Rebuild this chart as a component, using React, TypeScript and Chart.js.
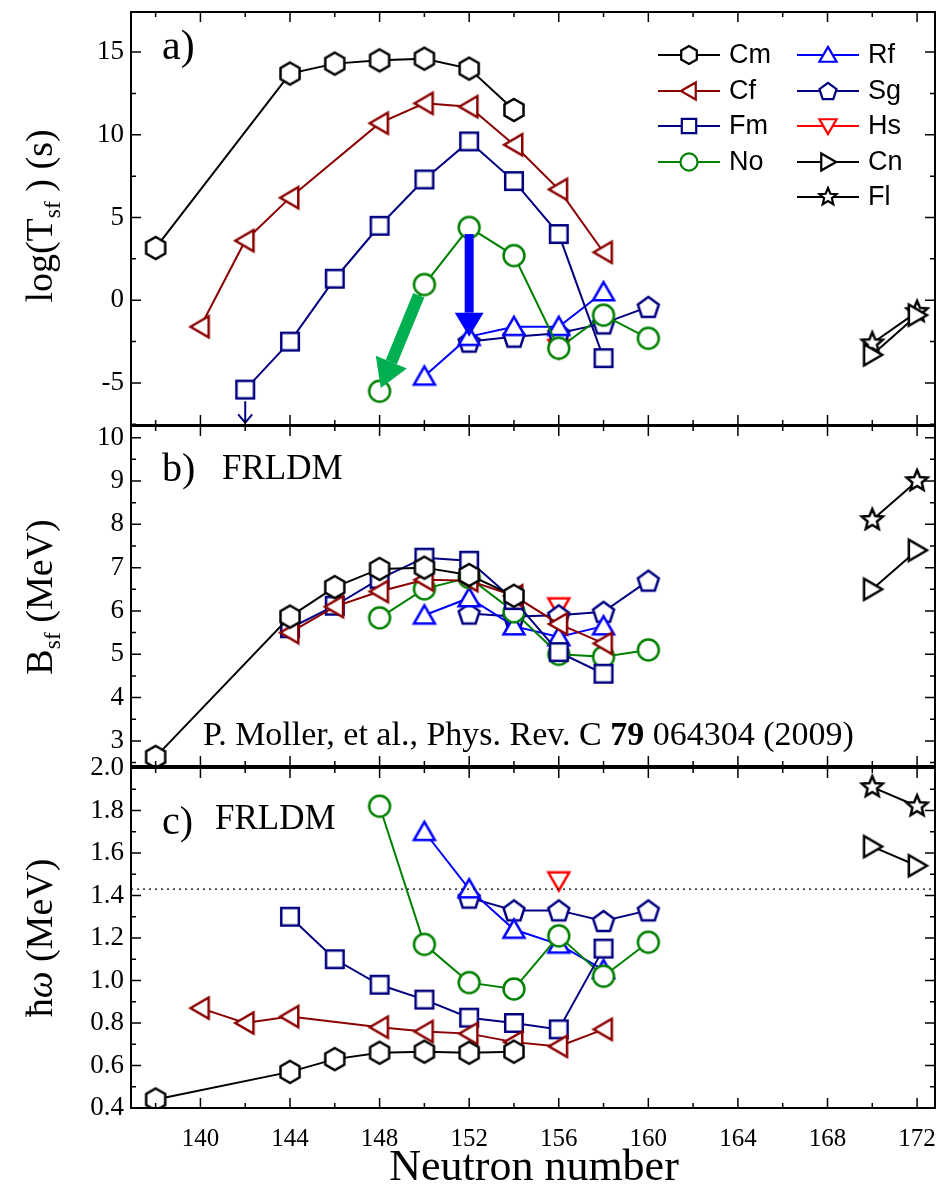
import { useRef, useEffect } from "react";
import { Chart, registerables } from "chart.js";

Chart.register(...registerables);

const SERIF = "'Liberation Serif', 'DejaVu Serif', serif";
const SANS = "'Liberation Sans', Arial, sans-serif";

// ---- data: neutron numbers and values ----
const cmN = [138, 144, 146, 148, 150, 152, 154];
const cmT = [3.16, 13.7, 14.3, 14.5, 14.6, 14.0, 11.5];
const cmB = [2.63, 5.87, 6.55, 6.97, 7.0, 6.83, 6.35];
const cmW = [0.44, 0.57, 0.63, 0.66, 0.665, 0.66, 0.665];

const cfN = [140, 142, 144, 146, 148, 150, 152, 154, 156, 158];
const cfT = [-1.6, 3.6, 6.2, null, 10.7, 11.9, 11.7, 9.4, 6.7, 2.9];
const cfB = [null, null, 5.5, 6.1, 6.45, 6.72, 6.7, 6.35, 5.7, 5.25];
const cfW = [0.87, 0.8, 0.83, null, 0.78, 0.76, 0.75, 0.71, 0.69, 0.77];

const fmN = [142, 144, 146, 148, 150, 152, 154, 156, 158];
const fmT = [-5.4, -2.5, 1.3, 4.5, 7.3, 9.6, 7.2, 4.0, -3.5];
const fmB = [null, 5.6, 6.12, 6.74, 7.23, 7.16, 6.25, 5.05, 4.55];
const fmW = [null, 1.3, 1.1, 0.98, 0.91, 0.825, 0.8, 0.77, 1.15];

const noN = [148, 150, 152, 154, 156, 158, 160];
const noT = [-5.5, 0.95, 4.4, 2.7, -2.9, -0.9, -2.3];
const noB = [5.84, 6.51, 6.77, 5.98, 5.0, 4.94, 5.1];
const noW = [1.82, 1.17, 0.99, 0.96, 1.21, 1.02, 1.18];

const rfN = [150, 152, 154, 156, 158];
const rfT = [-4.6, -2.2, -1.6, -1.6, 0.5];
const rfB = [5.9, 6.3, 5.65, 5.4, 5.65];
const rfW = [1.7, 1.43, 1.24, 1.17, 1.05];

const sgN = [152, 154, 156, 158, 160];
const sgT = [-2.5, -2.2, -2.0, -1.4, -0.4];
const sgB = [5.94, 5.87, 5.9, 5.98, 6.7];
const sgW = [1.39, 1.33, 1.33, 1.28, 1.33];

const hsN = [156];
const hsT = [-2.9];
const hsB = [6.1];
const hsW = [1.47];

const cnN = [170, 172];
const cnT = [-3.3, -0.9];
const cnB = [6.5, 7.4];
const cnW = [1.63, 1.54];

const flN = [170, 172];
const flT = [-2.6, -0.7];
const flB = [8.1, 9.0];
const flW = [1.91, 1.82];

const xMajor = [140, 144, 148, 152, 156, 160, 164, 168, 172];
const xMinor = [138, 142, 146, 150, 154, 158, 162, 166, 170];
const aMajor = [-5, 0, 5, 10, 15];
const aMinor = [-7.5, -2.5, 2.5, 7.5, 12.5, 17.5];
const bMajor = [3, 4, 5, 6, 7, 8, 9, 10];
const bMinor = [2.5, 3.5, 4.5, 5.5, 6.5, 7.5, 8.5, 9.5];
const cMajor = [0.4, 0.6, 0.8, 1.0, 1.2, 1.4, 1.6, 1.8, 2.0];
const cMinor = [0.5, 0.7, 0.9, 1.1, 1.3, 1.5, 1.7, 1.9];
const hbarOmegaRef = 1.43;

type Shape = "hex" | "tl" | "sq" | "ci" | "tu" | "pent" | "td" | "tr" | "star";

const series: { name: string; shape: Shape; color: string; n: number[]; t: (number | null)[]; b: (number | null)[]; w: (number | null)[] }[] = [
  { name: "Cm", shape: "hex", color: "#000000", n: cmN, t: cmT, b: cmB, w: cmW },
  { name: "Cf", shape: "tl", color: "#8b0000", n: cfN, t: cfT, b: cfB, w: cfW },
  { name: "Fm", shape: "sq", color: "#000080", n: fmN, t: fmT, b: fmB, w: fmW },
  { name: "No", shape: "ci", color: "#008000", n: noN, t: noT, b: noB, w: noW },
  { name: "Rf", shape: "tu", color: "#0000ff", n: rfN, t: rfT, b: rfB, w: rfW },
  { name: "Sg", shape: "pent", color: "#000080", n: sgN, t: sgT, b: sgB, w: sgW },
  { name: "Hs", shape: "td", color: "#ff0000", n: hsN, t: hsT, b: hsB, w: hsW },
  { name: "Cn", shape: "tr", color: "#000000", n: cnN, t: cnT, b: cnB, w: cnW },
  { name: "Fl", shape: "star", color: "#000000", n: flN, t: flT, b: flB, w: flW },
];

function polygon(ctx: CanvasRenderingContext2D, x: number, y: number, r: number, k: number, rot: number) {
  ctx.beginPath();
  for (let i = 0; i < k; i++) {
    const a = rot + (i * 2 * Math.PI) / k;
    const px = x + r * Math.cos(a);
    const py = y + r * Math.sin(a);
    if (i === 0) ctx.moveTo(px, py);
    else ctx.lineTo(px, py);
  }
  ctx.closePath();
}

function drawShape(ctx: CanvasRenderingContext2D, shape: Shape, x: number, y: number, r: number, color: string, lw: number) {
  ctx.save();
  ctx.strokeStyle = color;
  ctx.fillStyle = "#ffffff";
  ctx.lineWidth = lw;
  ctx.lineJoin = "miter";
  const up = -Math.PI / 2;
  if (shape === "ci") {
    ctx.beginPath();
    ctx.arc(x, y, r * 0.95, 0, Math.PI * 2);
  } else if (shape === "sq") {
    ctx.beginPath();
    const h = r * 0.8;
    ctx.rect(x - h, y - h, 2 * h, 2 * h);
  } else if (shape === "hex") polygon(ctx, x, y, r, 6, up);
  else if (shape === "pent") polygon(ctx, x, y + r * 0.1, r, 5, up);
  else if (shape === "tu") polygon(ctx, x, y + r * 0.2, r * 1.1, 3, up);
  else if (shape === "td") polygon(ctx, x, y - r * 0.2, r * 1.1, 3, Math.PI / 2);
  else if (shape === "tl") polygon(ctx, x + r * 0.2, y, r * 1.1, 3, Math.PI);
  else if (shape === "tr") polygon(ctx, x - r * 0.2, y, r * 1.1, 3, 0);
  else if (shape === "star") {
    ctx.beginPath();
    for (let i = 0; i < 10; i++) {
      const rr = i % 2 === 0 ? r : r * 0.45;
      const a = up + (i * Math.PI) / 5;
      const px = x + rr * Math.cos(a);
      const py = y + rr * Math.sin(a);
      if (i === 0) ctx.moveTo(px, py);
      else ctx.lineTo(px, py);
    }
    ctx.closePath();
  }
  ctx.fill();
  ctx.stroke();
  ctx.restore();
}

function markerImage(shape: Shape, color: string, r: number) {
  const c = document.createElement("canvas");
  const s = Math.ceil(r * 2 + 8);
  c.width = s;
  c.height = s;
  const ctx = c.getContext("2d")!;
  drawShape(ctx, shape, s / 2, s / 2, r, color, 2.5);
  return c;
}

type Extra = (ctx: CanvasRenderingContext2D, chart: any) => void;

function arrow(ctx: CanvasRenderingContext2D, x1: number, y1: number, x2: number, y2: number, w: number, head: number, color: string) {
  const ang = Math.atan2(y2 - y1, x2 - x1);
  const bx = x2 - head * Math.cos(ang);
  const by = y2 - head * Math.sin(ang);
  ctx.save();
  ctx.strokeStyle = color;
  ctx.fillStyle = color;
  ctx.lineWidth = w;
  ctx.beginPath();
  ctx.moveTo(x1, y1);
  ctx.lineTo(bx, by);
  ctx.stroke();
  ctx.beginPath();
  ctx.moveTo(x2, y2);
  ctx.lineTo(bx + head * 0.6 * Math.sin(ang), by - head * 0.6 * Math.cos(ang));
  ctx.lineTo(bx - head * 0.6 * Math.sin(ang), by + head * 0.6 * Math.cos(ang));
  ctx.closePath();
  ctx.fill();
  ctx.restore();
}

function titleWithSub(ctx: CanvasRenderingContext2D, cx: number, cy: number, parts: [string, boolean, string?][], size: number) {
  ctx.save();
  ctx.translate(cx, cy);
  ctx.rotate(-Math.PI / 2);
  let total = 0;
  const widths = parts.map(([t, sub, st]) => {
    ctx.font = `${st || ""} ${sub ? size * 0.62 : size}px ${SERIF}`;
    const w = ctx.measureText(t).width;
    total += w;
    return w;
  });
  let x = -total / 2;
  ctx.fillStyle = "#000";
  ctx.textBaseline = "middle";
  parts.forEach(([t, sub, st], i) => {
    ctx.font = `${st || ""} ${sub ? size * 0.62 : size}px ${SERIF}`;
    ctx.fillText(t, x, sub ? size * 0.3 : 0);
    x += widths[i];
  });
  ctx.restore();
}

type PanelProps = {
  top: number;
  height: number;
  field: "t" | "b" | "w";
  min: number;
  max: number;
  major: number[];
  minor: number[];
  pad: { top: number; bottom: number };
  showX: boolean;
  digits: number;
  extra: Extra;
};

function Panel(props: PanelProps) {
  const ref = useRef<HTMLCanvasElement>(null);
  useEffect(() => {
    if (!ref.current) return;
    const { field, major, minor, extra } = props;
    const datasets = series.map((s) => ({
      label: s.name,
      data: s.n.map((n, i) => ({ x: n, y: s[field][i] })).filter((p) => p.y !== null),
      borderColor: s.color,
      borderWidth: 2,
      pointStyle: markerImage(s.shape, s.color, 11),
      pointRadius: 11,
      fill: false,
      tension: 0,
    }));
    const frame = {
      id: "frame",
      afterDatasetsDraw(chart: any) {
        const ctx = chart.ctx as CanvasRenderingContext2D;
        const { left, right, top, bottom } = chart.chartArea;
        const xs = chart.scales.x;
        const ys = chart.scales.y;
        extra(ctx, chart);
        ctx.save();
        ctx.strokeStyle = "#000";
        ctx.lineWidth = 2;
        ctx.strokeRect(left, top, right - left, bottom - top);
        ctx.lineWidth = 1.5;
        ctx.beginPath();
        const tx = (v: number, len: number) => {
          const p = xs.getPixelForValue(v);
          ctx.moveTo(p, bottom);
          ctx.lineTo(p, bottom - len);
          ctx.moveTo(p, top);
          ctx.lineTo(p, top + len);
        };
        const ty = (v: number, len: number) => {
          const p = ys.getPixelForValue(v);
          if (p < top - 0.5 || p > bottom + 0.5) return;
          ctx.moveTo(left, p);
          ctx.lineTo(left + len, p);
          ctx.moveTo(right, p);
          ctx.lineTo(right - len, p);
        };
        xMajor.forEach((v) => tx(v, 10));
        xMinor.forEach((v) => tx(v, 5));
        major.forEach((v) => ty(v, 10));
        minor.forEach((v) => ty(v, 5));
        ctx.stroke();
        // tick labels
        ctx.fillStyle = "#000";
        ctx.font = `27px ${SERIF}`;
        ctx.textAlign = "right";
        ctx.textBaseline = "middle";
        major.forEach((v) => ctx.fillText(v.toFixed(props.digits), left - 7, ys.getPixelForValue(v)));
        if (props.showX) {
          ctx.font = `25px ${SERIF}`;
          ctx.textAlign = "center";
          xMajor.forEach((v) => ctx.fillText(String(v), xs.getPixelForValue(v), bottom + 31));
        }
        ctx.restore();
      },
    };
    const chart = new Chart(ref.current, {
      type: "line",
      data: { datasets },
      options: {
        animation: false,
        responsive: false,
        maintainAspectRatio: false,
        devicePixelRatio: 1,
        layout: { autoPadding: false, padding: { top: props.pad.top, right: 7, left: 0, bottom: props.pad.bottom } },
        plugins: { legend: { display: false }, tooltip: { enabled: false } },
        scales: {
          x: {
            type: "linear",
            min: 136.9,
            max: 172.8,
            display: false,
          },
          y: {
            min: props.min,
            max: props.max,
            grid: { display: false },
            border: { display: false },
            ticks: { display: false },
            afterFit: (s: any) => {
              s.width = 131;
            },
          },
        },
      },
      plugins: [frame],
    });
    return () => chart.destroy();
  }, []);
  return (
    <canvas
      ref={ref}
      width={942}
      height={props.height}
      style={{ position: "absolute", left: 0, top: props.top, width: 942, height: props.height }}
    />
  );
}

const extraA: Extra = (ctx, chart) => {
  const xs = chart.scales.x;
  const ys = chart.scales.y;
  const X = (v: number) => xs.getPixelForValue(v);
  const Y = (v: number) => ys.getPixelForValue(v);
  arrow(ctx, X(149.75), Y(0.3), X(148.05), Y(-5.3), 12, 28, "#00b050");
  arrow(ctx, X(152), Y(4.0), X(152), Y(-2.2), 9, 24, "#0000ff");
  ctx.save();
  ctx.strokeStyle = "#000080";
  ctx.lineWidth = 2;
  ctx.beginPath();
  ctx.moveTo(X(142), Y(-6.1));
  ctx.lineTo(X(142), Y(-7.4));
  ctx.moveTo(X(142) - 7, Y(-6.9));
  ctx.lineTo(X(142), Y(-7.4));
  ctx.lineTo(X(142) + 7, Y(-6.9));
  ctx.stroke();
  ctx.restore();
  ctx.save();
  ctx.fillStyle = "#000";
  ctx.font = `42px ${SERIF}`;
  ctx.textBaseline = "middle";
  ctx.fillText("a)", 162, 48);
  ctx.restore();
  titleWithSub(ctx, 42, 216, [["log(T", false], ["sf", true], [" ) (s)", false]], 38);
  // legend
  const rows1 = [0, 1, 2, 3];
  const rows2 = [4, 5, 6, 7, 8];
  const rowY = [55, 91, 126, 162, 197];
  const item = (i: number, row: number, x0: number) => {
    const s = series[i];
    ctx.save();
    ctx.strokeStyle = s.color;
    ctx.lineWidth = 2;
    ctx.beginPath();
    ctx.moveTo(x0, rowY[row]);
    ctx.lineTo(x0 + 62, rowY[row]);
    ctx.stroke();
    ctx.restore();
    drawShape(ctx, s.shape, x0 + 31, rowY[row], 9, s.color, 2.2);
    ctx.save();
    ctx.fillStyle = "#000";
    ctx.font = `27px ${SANS}`;
    ctx.textBaseline = "middle";
    ctx.fillText(s.name, x0 + 71, rowY[row] + 1);
    ctx.restore();
  };
  rows1.forEach((i, r) => item(i, r, 658));
  rows2.forEach((i, r) => item(i, r, 797));
};

const extraB: Extra = (ctx) => {
  ctx.save();
  ctx.fillStyle = "#000";
  ctx.textBaseline = "middle";
  ctx.font = `40px ${SERIF}`;
  ctx.fillText("b)", 162, 44);
  ctx.font = `35px ${SERIF}`;
  ctx.fillText("FRLDM", 222, 44);
  ctx.font = `34px ${SERIF}`;
  let x = 203;
  const y = 310;
  const p1 = "P. Moller, et al., Phys. Rev. C ";
  ctx.fillText(p1, x, y);
  x += ctx.measureText(p1).width;
  ctx.font = `bold 34px ${SERIF}`;
  ctx.fillText("79", x, y);
  x += ctx.measureText("79").width;
  ctx.font = `34px ${SERIF}`;
  ctx.fillText(" 064304 (2009)", x, y);
  ctx.restore();
  titleWithSub(ctx, 42, 171, [["B", false], ["sf", true], [" (MeV)", false]], 38);
};

const extraC: Extra = (ctx, chart) => {
  const { left, right, top } = chart.chartArea;
  const ys = chart.scales.y;
  const yp = ys.getPixelForValue(hbarOmegaRef);
  ctx.save();
  ctx.strokeStyle = "#000";
  ctx.lineWidth = 1.2;
  ctx.setLineDash([2, 4]);
  ctx.beginPath();
  ctx.moveTo(left, yp);
  ctx.lineTo(right, yp);
  ctx.stroke();
  ctx.setLineDash([]);
  ctx.fillStyle = "#000";
  ctx.textBaseline = "middle";
  ctx.font = `40px ${SERIF}`;
  ctx.fillText("c)", 162, top + 55);
  ctx.font = `35px ${SERIF}`;
  ctx.fillText("FRLDM", 215, top + 52);
  ctx.font = `44px ${SERIF}`;
  ctx.textAlign = "center";
  ctx.fillText("Neutron number", 534, top + 400);
  ctx.restore();
  titleWithSub(ctx, 42, top + 170, [["ħ", false], ["ω", false, "italic"], [" (MeV)", false]], 38);
};

export default function App() {
  return (
    <div style={{ position: "absolute", left: 0, top: 0, width: 942, height: 1193, background: "#fff" }}>
      <Panel top={0} height={426} field="t" min={-7.54} max={17.42} major={aMajor} minor={aMinor} pad={{ top: 12, bottom: 1 }} showX={false} digits={0} extra={extraA} />
      <Panel top={426} height={341} field="b" min={2.42} max={10.27} major={bMajor} minor={bMinor} pad={{ top: 0, bottom: 1 }} showX={false} digits={0} extra={extraB} />
      <Panel top={752} height={441} field="w" min={0.4} max={2.0} major={cMajor} minor={cMinor} pad={{ top: 16, bottom: 85 }} showX={true} digits={1} extra={extraC} />
    </div>
  );
}
